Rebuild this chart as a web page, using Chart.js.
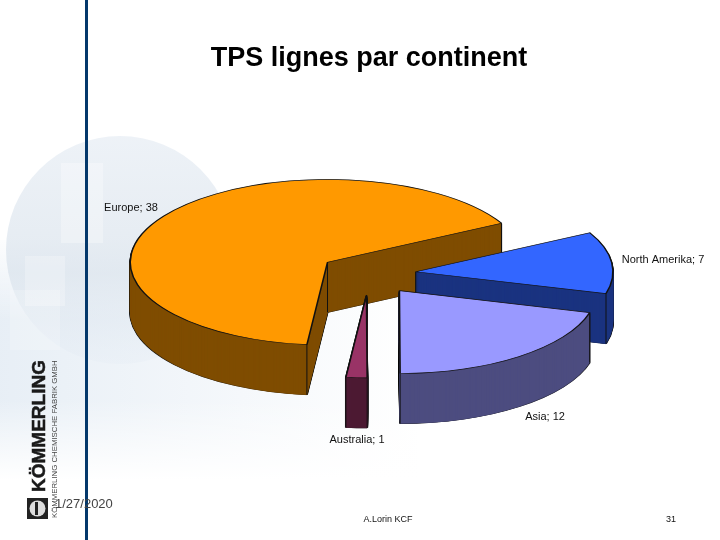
<!DOCTYPE html>
<html>
<head>
<meta charset="utf-8">
<style>html,body{margin:0;padding:0;background:#fff}canvas{display:block}</style>
<script src="https://cdn.jsdelivr.net/npm/chart.js@4"></script>
</head>
<body>
<canvas id="c" width="720" height="540"></canvas>
<script>
const categories = ['Europe', 'North Amerika', 'Asia', 'Australia'];
const values = [38, 7, 12, 1];
const topColors = ['#FF9900', '#3366FF', '#9999FF', '#993366'];
const sideColors = ['#7F4D00', '#1A3380', '#4D4D80', '#4D1A33'];
const explode = [50, 47, 50, 50];
const labelSpots = [[131, 208], [663, 260], [545, 417], [357, 440]];
const chartTitle = 'TPS lignes par continent';
const footerDate = '1/27/2020';
const footerAuthor = 'A.Lorin KCF';
const footerPage = '31';

const FONT = '"Liberation Sans", Arial, sans-serif';
const tilt = 0.42, depth = 50, centerX = 369, centerY = 274;

function withArc(arc, opts, fn) {
  const saved = arc.options;
  arc.options = Object.assign({offset:0, spacing:0, circular:true, borderRadius:0, borderAlign:'center',
    borderJoinStyle:'bevel', borderDash:[], borderDashOffset:0, selfJoin:false}, opts);
  fn(); arc.options = saved;
}
function drawLayer(ctx, arc, e, d, opts) {
  const mid = (arc.startAngle + arc.endAngle) / 2;
  ctx.save();
  ctx.translate(centerX + Math.cos(mid) * e, centerY + d + Math.sin(mid) * e * tilt);
  ctx.scale(1, tilt);
  ctx.translate(-arc.x, -arc.y);
  withArc(arc, opts, () => arc.draw(ctx));
  ctx.restore();
}
const pie3d = {
  id: 'pie3d',
  beforeDraw(chart) {
    const ctx = chart.ctx;
    ctx.save();
    ctx.fillStyle = '#fff'; ctx.fillRect(0, 0, 720, 540);
    let g = ctx.createLinearGradient(0, 0, 420, 0);
    g.addColorStop(0, 'rgba(212,225,238,0.55)'); g.addColorStop(1, 'rgba(212,225,238,0)');
    ctx.fillStyle = g; ctx.fillRect(0, 240, 420, 240);
    g = ctx.createLinearGradient(0, 400, 0, 480);
    g.addColorStop(0, 'rgba(255,255,255,0)'); g.addColorStop(1, 'rgba(255,255,255,1)');
    ctx.fillStyle = g; ctx.fillRect(0, 400, 420, 80);
    g = ctx.createLinearGradient(0, 230, 0, 320);
    g.addColorStop(0, 'rgba(255,255,255,1)'); g.addColorStop(1, 'rgba(255,255,255,0)');
    ctx.fillStyle = g; ctx.fillRect(0, 230, 420, 90);
    g = ctx.createLinearGradient(0, 135, 0, 365);
    g.addColorStop(0, 'rgba(228,235,243,0.65)'); g.addColorStop(0.6, 'rgba(214,224,234,0.65)'); g.addColorStop(1, 'rgba(226,234,243,0.25)');
    ctx.beginPath(); ctx.arc(120, 250, 114, 0, Math.PI * 2); ctx.fillStyle = g; ctx.fill();
    ctx.fillStyle = 'rgba(255,255,255,0.3)'; ctx.fillRect(61, 163, 42, 80);
    ctx.fillStyle = 'rgba(255,255,255,0.25)'; ctx.fillRect(25, 256, 40, 50);
    ctx.fillStyle = 'rgba(255,255,255,0.2)'; ctx.fillRect(10, 290, 50, 60);
    ctx.fillStyle = '#04386b'; ctx.fillRect(85, 0, 3, 540);
    ctx.restore();
  },
  beforeDatasetsDraw(chart) {
    const ctx = chart.ctx, arcs = chart.getDatasetMeta(0).data;
    arcs.forEach((arc, i) => {
      const e = explode[i], side = sideColors[i];
      for (let d = depth; d > 0; d--) drawLayer(ctx, arc, e, d, {backgroundColor: side, borderColor: '#111', borderWidth: 2});
      for (let d = depth; d > 0; d--) drawLayer(ctx, arc, e, d, {backgroundColor: side, borderColor: side, borderWidth: 0.8});
      const mid = (arc.startAngle + arc.endAngle) / 2;
      const ox = centerX + Math.cos(mid) * e, oy = centerY + Math.sin(mid) * e * tilt;
      const R = arc.outerRadius;
      const pts = [[ox, oy],
        [ox + Math.cos(arc.startAngle) * R, oy + Math.sin(arc.startAngle) * R * tilt],
        [ox + Math.cos(arc.endAngle) * R, oy + Math.sin(arc.endAngle) * R * tilt]];
      ctx.save(); ctx.strokeStyle = '#111'; ctx.lineWidth = 1;
      pts.forEach(p => { ctx.beginPath(); ctx.moveTo(p[0], p[1]); ctx.lineTo(p[0], p[1] + depth); ctx.stroke(); });
      ctx.restore();
      drawLayer(ctx, arc, e, 0, {backgroundColor: topColors[i], borderColor: '#111', borderWidth: 1.6});
    });
    return false;
  },
  afterDraw(chart) {
    const ctx = chart.ctx;
    ctx.save();
    ctx.fillStyle = '#111'; ctx.font = '11px ' + FONT;
    ctx.textAlign = 'center'; ctx.textBaseline = 'middle';
    categories.forEach((c, i) => ctx.fillText(c + '; ' + values[i], labelSpots[i][0], labelSpots[i][1]));
    ctx.font = '9px ' + FONT; ctx.fillText(footerAuthor, 388, 520); ctx.fillText(footerPage, 671, 520);
    ctx.font = '13px ' + FONT; ctx.fillStyle = '#444'; ctx.textAlign = 'left'; ctx.fillText(footerDate, 55, 504);
    ctx.fillStyle = '#222'; ctx.fillRect(27, 498, 21, 21);
    ctx.beginPath(); ctx.arc(37.5, 508.5, 8, 0, Math.PI * 2); ctx.fillStyle = '#ddd'; ctx.fill();
    ctx.fillStyle = '#222'; ctx.fillRect(35, 502, 3, 13);
    ctx.translate(45, 492); ctx.rotate(-Math.PI / 2);
    ctx.textAlign = 'left'; ctx.textBaseline = 'alphabetic'; ctx.fillStyle = '#1a1a1a';
    ctx.font = 'bold 19px ' + FONT; ctx.fillText('KÖMMERLING', 0, 0);
    ctx.lineWidth = 0.5; ctx.strokeStyle = '#1a1a1a'; ctx.strokeText('KÖMMERLING', 0, 0);
    ctx.font = '7.8px ' + FONT; ctx.fillStyle = '#444'; ctx.fillText('KÖMMERLING CHEMISCHE FABRIK GMBH', -26, 12);
    ctx.restore();
  }
};
new Chart(document.getElementById('c'), {
  type: 'pie',
  data: { labels: categories, datasets: [{ data: values, backgroundColor: topColors, borderColor: '#111', borderWidth: 1 }] },
  options: {
    responsive: false, animation: false, rotation: 186,
    layout: { padding: { left: 171, right: 153, top: 0, bottom: 64 } },
    plugins: {
      legend: { display: false }, tooltip: { enabled: false },
      title: { display: true, text: chartTitle, color: '#000', font: { family: FONT, size: 27, weight: 'bold' }, padding: { top: 42, bottom: 6 } }
    }
  },
  plugins: [pie3d]
});
</script>
</body>
</html>
